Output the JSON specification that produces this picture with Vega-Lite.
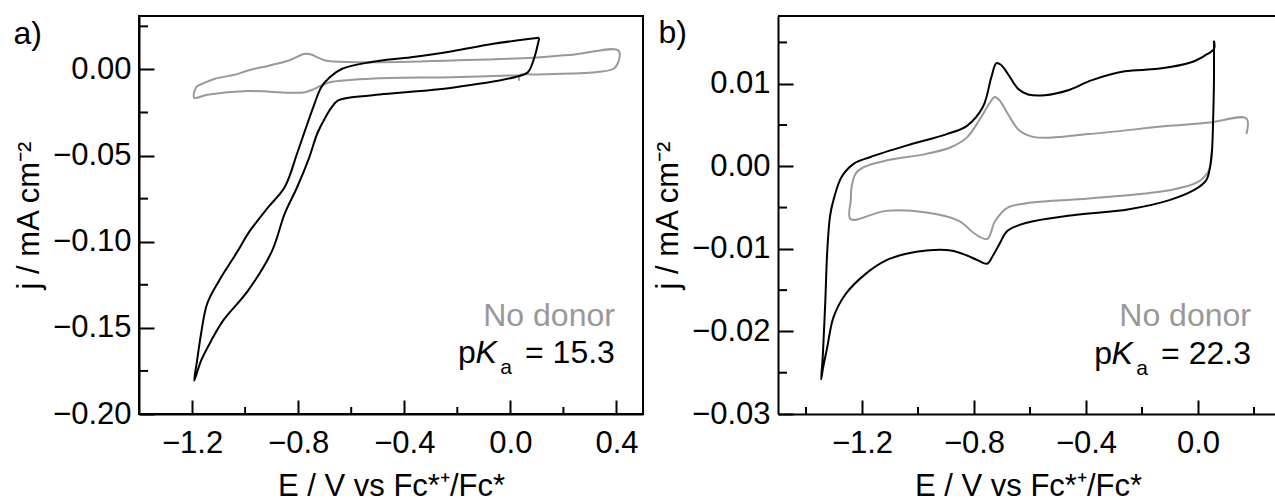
{
  "$schema": "https://vega.github.io/schema/vega-lite/v6.json",
  "padding": {"left": 12, "top": 15, "right": 0, "bottom": 0},
  "spacing": 135,
  "bounds": "flush",
  "config": {
    "font": "Liberation Sans",
    "view": {"stroke": "black", "strokeWidth": 2},
    "axis": {
      "grid": false,
      "domainColor": "black",
      "domainWidth": 2,
      "tickColor": "black",
      "tickWidth": 2,
      "labelFont": "Liberation Sans",
      "labelFontSize": 31,
      "labelColor": "black",
      "labelFlush": false,
      "labelOverlap": false,
      "titleFont": "Liberation Sans",
      "titleFontSize": 31,
      "titleFontWeight": "normal",
      "titleColor": "black"
    },
    "title": {"font": "Liberation Sans", "fontSize": 32, "fontWeight": "normal", "color": "black", "anchor": "start", "frame": "bounds", "offset": -35, "dx": 0}
  },
  "datasets": {
    "a": [
      {"s": "none", "i": 1, "E": 0.034, "j": -0.0066},
      {"s": "none", "i": 2, "E": 0.034, "j": -0.0034},
      {"s": "none", "i": 3, "E": 0.089, "j": -0.0029},
      {"s": "none", "i": 4, "E": 0.321, "j": -0.0016},
      {"s": "none", "i": 5, "E": 0.389, "j": 0.0004},
      {"s": "none", "i": 6, "E": 0.407, "j": 0.0042},
      {"s": "none", "i": 7, "E": 0.407, "j": 0.011},
      {"s": "none", "i": 8, "E": 0.242, "j": 0.0087},
      {"s": "none", "i": 9, "E": 0.089, "j": 0.0068},
      {"s": "none", "i": 10, "E": -0.219, "j": 0.0052},
      {"s": "none", "i": 11, "E": -0.528, "j": 0.0042},
      {"s": "none", "i": 12, "E": -0.666, "j": 0.0046},
      {"s": "none", "i": 13, "E": -0.698, "j": 0.0052},
      {"s": "none", "i": 14, "E": -0.728, "j": 0.0071},
      {"s": "none", "i": 15, "E": -0.751, "j": 0.0087},
      {"s": "none", "i": 16, "E": -0.774, "j": 0.0091},
      {"s": "none", "i": 17, "E": -0.835, "j": 0.0052},
      {"s": "none", "i": 18, "E": -0.907, "j": 0.0023},
      {"s": "none", "i": 19, "E": -0.989, "j": -0.0006},
      {"s": "none", "i": 20, "E": -1.034, "j": -0.0029},
      {"s": "none", "i": 21, "E": -1.113, "j": -0.0054},
      {"s": "none", "i": 22, "E": -1.158, "j": -0.0081},
      {"s": "none", "i": 23, "E": -1.184, "j": -0.0103},
      {"s": "none", "i": 24, "E": -1.192, "j": -0.0164},
      {"s": "none", "i": 25, "E": -1.143, "j": -0.0147},
      {"s": "none", "i": 26, "E": -0.989, "j": -0.0126},
      {"s": "none", "i": 27, "E": -0.835, "j": -0.0135},
      {"s": "none", "i": 28, "E": -0.774, "j": -0.0132},
      {"s": "none", "i": 29, "E": -0.743, "j": -0.0116},
      {"s": "none", "i": 30, "E": -0.713, "j": -0.0093},
      {"s": "none", "i": 31, "E": -0.681, "j": -0.0074},
      {"s": "none", "i": 32, "E": -0.528, "j": -0.0054},
      {"s": "none", "i": 33, "E": -0.219, "j": -0.0045},
      {"s": "none", "i": 34, "E": 0.034, "j": -0.0034},
      {"s": "pKa", "i": 1, "E": 0.109, "j": 0.0184},
      {"s": "pKa", "i": 2, "E": -0.064, "j": 0.0149},
      {"s": "pKa", "i": 3, "E": -0.219, "j": 0.0106},
      {"s": "pKa", "i": 4, "E": -0.374, "j": 0.0071},
      {"s": "pKa", "i": 5, "E": -0.528, "j": 0.0042},
      {"s": "pKa", "i": 6, "E": -0.634, "j": 0.0004},
      {"s": "pKa", "i": 7, "E": -0.681, "j": -0.0045},
      {"s": "pKa", "i": 8, "E": -0.713, "j": -0.0103},
      {"s": "pKa", "i": 9, "E": -0.743, "j": -0.0219},
      {"s": "pKa", "i": 10, "E": -0.774, "j": -0.0354},
      {"s": "pKa", "i": 11, "E": -0.804, "j": -0.0488},
      {"s": "pKa", "i": 12, "E": -0.851, "j": -0.0684},
      {"s": "pKa", "i": 13, "E": -0.913, "j": -0.08},
      {"s": "pKa", "i": 14, "E": -0.989, "j": -0.0953},
      {"s": "pKa", "i": 15, "E": -1.026, "j": -0.105},
      {"s": "pKa", "i": 16, "E": -1.098, "j": -0.1226},
      {"s": "pKa", "i": 17, "E": -1.143, "j": -0.136},
      {"s": "pKa", "i": 18, "E": -1.166, "j": -0.1534},
      {"s": "pKa", "i": 19, "E": -1.181, "j": -0.169},
      {"s": "pKa", "i": 20, "E": -1.192, "j": -0.1807},
      {"s": "pKa", "i": 21, "E": -1.166, "j": -0.169},
      {"s": "pKa", "i": 22, "E": -1.128, "j": -0.1575},
      {"s": "pKa", "i": 23, "E": -1.083, "j": -0.1458},
      {"s": "pKa", "i": 24, "E": -0.989, "j": -0.1284},
      {"s": "pKa", "i": 25, "E": -0.898, "j": -0.1052},
      {"s": "pKa", "i": 26, "E": -0.851, "j": -0.0838},
      {"s": "pKa", "i": 27, "E": -0.804, "j": -0.0684},
      {"s": "pKa", "i": 28, "E": -0.758, "j": -0.051},
      {"s": "pKa", "i": 29, "E": -0.728, "j": -0.0372},
      {"s": "pKa", "i": 30, "E": -0.697, "j": -0.0277},
      {"s": "pKa", "i": 31, "E": -0.673, "j": -0.0219},
      {"s": "pKa", "i": 32, "E": -0.649, "j": -0.018},
      {"s": "pKa", "i": 33, "E": -0.528, "j": -0.0151},
      {"s": "pKa", "i": 34, "E": -0.219, "j": -0.0106},
      {"s": "pKa", "i": 35, "E": 0.026, "j": -0.0041},
      {"s": "pKa", "i": 36, "E": 0.066, "j": -0.0016},
      {"s": "pKa", "i": 37, "E": 0.089, "j": 0.0062},
      {"s": "pKa", "i": 38, "E": 0.109, "j": 0.0184}
    ],
    "aText": [
      {"s": "none", "part": "main", "E": 0.394, "j": -0.1487, "t": "No donor"},
      {"s": "pKa", "part": "main", "E": 0.394, "j": -0.1706, "t": "= 15.3"},
      {"s": "pKa", "part": "sub", "E": 0.394, "j": -0.1706, "t": "a"},
      {"s": "pKa", "part": "ital", "E": 0.394, "j": -0.1706, "t": "K"},
      {"s": "pKa", "part": "pre", "E": 0.394, "j": -0.1706, "t": "p"}
    ],
    "aMinor": [
      {"ax": "x", "E": -1.0, "j": -0.2}, {"ax": "x", "E": -0.6, "j": -0.2}, {"ax": "x", "E": -0.2, "j": -0.2}, {"ax": "x", "E": 0.2, "j": -0.2},
      {"ax": "y", "E": -1.4, "j": -0.175}, {"ax": "y", "E": -1.4, "j": -0.125}, {"ax": "y", "E": -1.4, "j": -0.075}, {"ax": "y", "E": -1.4, "j": -0.025}, {"ax": "y", "E": -1.4, "j": 0.025}
    ],
    "b": [
      {"s": "none", "i": 1, "E": 0.05, "j": 0.0021},
      {"s": "none", "i": 2, "E": 0.046, "j": 0.0007},
      {"s": "none", "i": 3, "E": 0.039, "j": -0.0005},
      {"s": "none", "i": 4, "E": 0.0, "j": -0.0019},
      {"s": "none", "i": 5, "E": -0.102, "j": -0.0029},
      {"s": "none", "i": 6, "E": -0.391, "j": -0.0039},
      {"s": "none", "i": 7, "E": -0.594, "j": -0.0044},
      {"s": "none", "i": 8, "E": -0.68, "j": -0.005},
      {"s": "none", "i": 9, "E": -0.724, "j": -0.0066},
      {"s": "none", "i": 10, "E": -0.753, "j": -0.0088},
      {"s": "none", "i": 11, "E": -0.796, "j": -0.0082},
      {"s": "none", "i": 12, "E": -0.854, "j": -0.0066},
      {"s": "none", "i": 13, "E": -0.97, "j": -0.0056},
      {"s": "none", "i": 14, "E": -1.114, "j": -0.0054},
      {"s": "none", "i": 15, "E": -1.241, "j": -0.0064},
      {"s": "none", "i": 16, "E": -1.24, "j": -0.0041},
      {"s": "none", "i": 17, "E": -1.237, "j": -0.0025},
      {"s": "none", "i": 18, "E": -1.223, "j": -0.0009},
      {"s": "none", "i": 19, "E": -1.194, "j": -0.0001},
      {"s": "none", "i": 20, "E": -1.114, "j": 0.0007},
      {"s": "none", "i": 21, "E": -0.97, "j": 0.0015},
      {"s": "none", "i": 22, "E": -0.883, "j": 0.0023},
      {"s": "none", "i": 23, "E": -0.825, "j": 0.0035},
      {"s": "none", "i": 24, "E": -0.781, "j": 0.0056},
      {"s": "none", "i": 25, "E": -0.745, "j": 0.0076},
      {"s": "none", "i": 26, "E": -0.726, "j": 0.0084},
      {"s": "none", "i": 27, "E": -0.709, "j": 0.008},
      {"s": "none", "i": 28, "E": -0.68, "j": 0.0064},
      {"s": "none", "i": 29, "E": -0.637, "j": 0.0043},
      {"s": "none", "i": 30, "E": -0.579, "j": 0.0035},
      {"s": "none", "i": 31, "E": -0.391, "j": 0.0039},
      {"s": "none", "i": 32, "E": -0.102, "j": 0.0049},
      {"s": "none", "i": 33, "E": 0.043, "j": 0.0053},
      {"s": "none", "i": 34, "E": 0.173, "j": 0.0058},
      {"s": "none", "i": 35, "E": 0.173, "j": 0.0039},
      {"s": "pKa", "i": 1, "E": 0.057, "j": 0.0152},
      {"s": "pKa", "i": 2, "E": 0.057, "j": 0.0104},
      {"s": "pKa", "i": 3, "E": 0.054, "j": 0.0056},
      {"s": "pKa", "i": 4, "E": 0.05, "j": 0.0019},
      {"s": "pKa", "i": 5, "E": 0.043, "j": -0.0001},
      {"s": "pKa", "i": 6, "E": 0.029, "j": -0.0017},
      {"s": "pKa", "i": 7, "E": -0.015, "j": -0.0029},
      {"s": "pKa", "i": 8, "E": -0.102, "j": -0.0041},
      {"s": "pKa", "i": 9, "E": -0.246, "j": -0.0052},
      {"s": "pKa", "i": 10, "E": -0.464, "j": -0.006},
      {"s": "pKa", "i": 11, "E": -0.608, "j": -0.0068},
      {"s": "pKa", "i": 12, "E": -0.68, "j": -0.0078},
      {"s": "pKa", "i": 13, "E": -0.709, "j": -0.0094},
      {"s": "pKa", "i": 14, "E": -0.732, "j": -0.0108},
      {"s": "pKa", "i": 15, "E": -0.753, "j": -0.0118},
      {"s": "pKa", "i": 16, "E": -0.786, "j": -0.0114},
      {"s": "pKa", "i": 17, "E": -0.825, "j": -0.0108},
      {"s": "pKa", "i": 18, "E": -0.883, "j": -0.0102},
      {"s": "pKa", "i": 19, "E": -0.97, "j": -0.0102},
      {"s": "pKa", "i": 20, "E": -1.042, "j": -0.0106},
      {"s": "pKa", "i": 21, "E": -1.114, "j": -0.0114},
      {"s": "pKa", "i": 22, "E": -1.186, "j": -0.013},
      {"s": "pKa", "i": 23, "E": -1.259, "j": -0.0155},
      {"s": "pKa", "i": 24, "E": -1.302, "j": -0.0183},
      {"s": "pKa", "i": 25, "E": -1.324, "j": -0.0219},
      {"s": "pKa", "i": 26, "E": -1.339, "j": -0.0244},
      {"s": "pKa", "i": 27, "E": -1.346, "j": -0.0258},
      {"s": "pKa", "i": 28, "E": -1.341, "j": -0.0235},
      {"s": "pKa", "i": 29, "E": -1.339, "j": -0.0223},
      {"s": "pKa", "i": 30, "E": -1.331, "j": -0.0163},
      {"s": "pKa", "i": 31, "E": -1.324, "j": -0.0102},
      {"s": "pKa", "i": 32, "E": -1.314, "j": -0.006},
      {"s": "pKa", "i": 33, "E": -1.302, "j": -0.0041},
      {"s": "pKa", "i": 34, "E": -1.273, "j": -0.0013},
      {"s": "pKa", "i": 35, "E": -1.23, "j": 0.0003},
      {"s": "pKa", "i": 36, "E": -1.172, "j": 0.0011},
      {"s": "pKa", "i": 37, "E": -1.042, "j": 0.0025},
      {"s": "pKa", "i": 38, "E": -0.897, "j": 0.0039},
      {"s": "pKa", "i": 39, "E": -0.825, "j": 0.0049},
      {"s": "pKa", "i": 40, "E": -0.768, "j": 0.0072},
      {"s": "pKa", "i": 41, "E": -0.738, "j": 0.0108},
      {"s": "pKa", "i": 42, "E": -0.72, "j": 0.0125},
      {"s": "pKa", "i": 43, "E": -0.704, "j": 0.0123},
      {"s": "pKa", "i": 44, "E": -0.679, "j": 0.0112},
      {"s": "pKa", "i": 45, "E": -0.643, "j": 0.0094},
      {"s": "pKa", "i": 46, "E": -0.607, "j": 0.0087},
      {"s": "pKa", "i": 47, "E": -0.547, "j": 0.0086},
      {"s": "pKa", "i": 48, "E": -0.464, "j": 0.0092},
      {"s": "pKa", "i": 49, "E": -0.381, "j": 0.0104},
      {"s": "pKa", "i": 50, "E": -0.262, "j": 0.0115},
      {"s": "pKa", "i": 51, "E": -0.143, "j": 0.0118},
      {"s": "pKa", "i": 52, "E": -0.024, "j": 0.0126},
      {"s": "pKa", "i": 53, "E": 0.024, "j": 0.0134},
      {"s": "pKa", "i": 54, "E": 0.057, "j": 0.0142},
      {"s": "pKa", "i": 55, "E": 0.057, "j": 0.0152}
    ],
    "bText": [
      {"s": "none", "part": "main", "E": 0.189, "j": -0.0193, "t": "No donor"},
      {"s": "pKa", "part": "main", "E": 0.189, "j": -0.024, "t": "= 22.3"},
      {"s": "pKa", "part": "sub", "E": 0.189, "j": -0.024, "t": "a"},
      {"s": "pKa", "part": "ital", "E": 0.189, "j": -0.024, "t": "K"},
      {"s": "pKa", "part": "pre", "E": 0.189, "j": -0.024, "t": "p"}
    ],
    "bMinor": [
      {"ax": "x", "E": -1.4, "j": -0.03}, {"ax": "x", "E": -1.0, "j": -0.03}, {"ax": "x", "E": -0.6, "j": -0.03}, {"ax": "x", "E": -0.2, "j": -0.03}, {"ax": "x", "E": 0.2, "j": -0.03},
      {"ax": "y", "E": -1.5, "j": -0.025}, {"ax": "y", "E": -1.5, "j": -0.015}, {"ax": "y", "E": -1.5, "j": -0.005}, {"ax": "y", "E": -1.5, "j": 0.005}, {"ax": "y", "E": -1.5, "j": 0.015}
    ],
    "bTop": [
      {"E": -1.5, "E2": 0.2857, "j": 0.0182}
    ]
  },
  "hconcat": [
    {
      "title": {"text": "a)"},
      "width": 504,
      "height": 398,
      "encoding": {
        "x": {
          "field": "E", "type": "quantitative",
          "scale": {"domain": [-1.4, 0.5], "nice": false, "zero": false},
          "axis": {
            "values": [-1.2, -0.8, -0.4, 0, 0.4],
            "format": ".1f",
            "tickSize": -14,
            "labelPadding": 28,
            "title": "E / V vs Fc*⁺/Fc*",
            "titlePadding": 13
          }
        },
        "y": {
          "field": "j", "type": "quantitative",
          "scale": {"domain": [-0.2, 0.031], "nice": false, "zero": false},
          "axis": {
            "values": [-0.2, -0.15, -0.1, -0.05, 0],
            "format": ".2f",
            "tickSize": -15,
            "labelPadding": 23,
            "title": "j / mA cm⁻²",
            "titlePadding": 7
          }
        },
        "color": {"field": "s", "type": "nominal", "scale": {"domain": ["none", "pKa", "axis"], "range": ["#999999", "#000000", "#000000"]}, "legend": null}
      },
      "layer": [
        {
          "data": {"name": "a"},
          "transform": [{"filter": "datum.s === 'none'"}],
          "mark": {"type": "line", "strokeWidth": 2, "strokeJoin": "round", "interpolate": "catmull-rom"},
          "encoding": {"order": {"field": "i", "type": "quantitative"}}
        },
        {
          "data": {"name": "a"},
          "transform": [{"filter": "datum.s === 'pKa'"}],
          "mark": {"type": "line", "strokeWidth": 2, "strokeJoin": "round", "interpolate": "catmull-rom"},
          "encoding": {"order": {"field": "i", "type": "quantitative"}}
        },
        {
          "data": {"name": "aMinor"},
          "transform": [{"filter": "datum.ax === 'x'"}],
          "mark": {"type": "tick", "orient": "vertical", "size": 7, "thickness": 2, "yOffset": -3.5, "opacity": 1},
          "encoding": {"color": {"value": "black"}}
        },
        {
          "data": {"name": "aMinor"},
          "transform": [{"filter": "datum.ax === 'y'"}],
          "mark": {"type": "tick", "orient": "horizontal", "size": 9, "thickness": 2, "xOffset": 4.5, "opacity": 1},
          "encoding": {"color": {"value": "black"}}
        },
        {
          "data": {"name": "aText"},
          "transform": [{"filter": "datum.part === 'main'"}],
          "mark": {"type": "text", "align": "right", "baseline": "alphabetic", "fontSize": 32},
          "encoding": {"text": {"field": "t", "type": "nominal"}}
        },
        {
          "data": {"name": "aText"},
          "transform": [{"filter": "datum.part === 'sub'"}],
          "mark": {"type": "text", "align": "right", "baseline": "alphabetic", "fontSize": 21, "dx": -103, "dy": 11},
          "encoding": {"text": {"field": "t", "type": "nominal"}}
        },
        {
          "data": {"name": "aText"},
          "transform": [{"filter": "datum.part === 'ital'"}],
          "mark": {"type": "text", "align": "right", "baseline": "alphabetic", "fontSize": 32, "fontStyle": "italic", "dx": -118},
          "encoding": {"text": {"field": "t", "type": "nominal"}}
        },
        {
          "data": {"name": "aText"},
          "transform": [{"filter": "datum.part === 'pre'"}],
          "mark": {"type": "text", "align": "right", "baseline": "alphabetic", "fontSize": 32, "dx": -139},
          "encoding": {"text": {"field": "t", "type": "nominal"}}
        }
      ]
    },
    {
      "title": {"text": "b)", "dx": 6},
      "width": 500,
      "height": 398,
      "view": {"stroke": null},
      "encoding": {
        "x": {
          "field": "E", "type": "quantitative",
          "scale": {"domain": [-1.5, 0.2857], "nice": false, "zero": false},
          "axis": {
            "values": [-1.2, -0.8, -0.4, 0],
            "format": ".1f",
            "tickSize": -14,
            "labelPadding": 28,
            "title": "E / V vs Fc*⁺/Fc*",
            "titlePadding": 13
          }
        },
        "y": {
          "field": "j", "type": "quantitative",
          "scale": {"domain": [-0.03, 0.0182], "nice": false, "zero": false},
          "axis": {
            "values": [-0.03, -0.02, -0.01, 0, 0.01],
            "format": ".2f",
            "tickSize": -15,
            "labelPadding": 23,
            "title": "j / mA cm⁻²",
            "titlePadding": 7
          }
        },
        "color": {"field": "s", "type": "nominal", "scale": {"domain": ["none", "pKa", "axis"], "range": ["#999999", "#000000", "#000000"]}, "legend": null}
      },
      "layer": [
        {
          "data": {"name": "b"},
          "transform": [{"filter": "datum.s === 'none'"}],
          "mark": {"type": "line", "strokeWidth": 2, "strokeJoin": "round", "interpolate": "catmull-rom"},
          "encoding": {"order": {"field": "i", "type": "quantitative"}}
        },
        {
          "data": {"name": "b"},
          "transform": [{"filter": "datum.s === 'pKa'"}],
          "mark": {"type": "line", "strokeWidth": 2, "strokeJoin": "round", "interpolate": "catmull-rom"},
          "encoding": {"order": {"field": "i", "type": "quantitative"}}
        },
        {
          "data": {"name": "bTop"},
          "mark": {"type": "rule", "strokeWidth": 2},
          "encoding": {"x2": {"field": "E2"}, "color": {"value": "black"}}
        },
        {
          "data": {"name": "bMinor"},
          "transform": [{"filter": "datum.ax === 'x'"}],
          "mark": {"type": "tick", "orient": "vertical", "size": 7, "thickness": 2, "yOffset": -3.5, "opacity": 1},
          "encoding": {"color": {"value": "black"}}
        },
        {
          "data": {"name": "bMinor"},
          "transform": [{"filter": "datum.ax === 'y'"}],
          "mark": {"type": "tick", "orient": "horizontal", "size": 9, "thickness": 2, "xOffset": 4.5, "opacity": 1},
          "encoding": {"color": {"value": "black"}}
        },
        {
          "data": {"name": "bText"},
          "transform": [{"filter": "datum.part === 'main'"}],
          "mark": {"type": "text", "align": "right", "baseline": "alphabetic", "fontSize": 32},
          "encoding": {"text": {"field": "t", "type": "nominal"}}
        },
        {
          "data": {"name": "bText"},
          "transform": [{"filter": "datum.part === 'sub'"}],
          "mark": {"type": "text", "align": "right", "baseline": "alphabetic", "fontSize": 21, "dx": -103, "dy": 11},
          "encoding": {"text": {"field": "t", "type": "nominal"}}
        },
        {
          "data": {"name": "bText"},
          "transform": [{"filter": "datum.part === 'ital'"}],
          "mark": {"type": "text", "align": "right", "baseline": "alphabetic", "fontSize": 32, "fontStyle": "italic", "dx": -118},
          "encoding": {"text": {"field": "t", "type": "nominal"}}
        },
        {
          "data": {"name": "bText"},
          "transform": [{"filter": "datum.part === 'pre'"}],
          "mark": {"type": "text", "align": "right", "baseline": "alphabetic", "fontSize": 32, "dx": -139},
          "encoding": {"text": {"field": "t", "type": "nominal"}}
        }
      ]
    }
  ]
}
